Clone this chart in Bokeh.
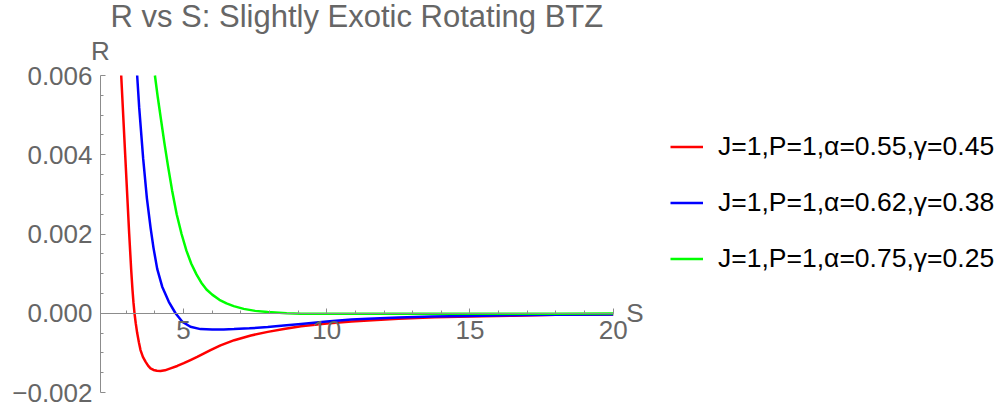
from bokeh.plotting import figure
from bokeh.models import Range1d, FixedTicker, Label, Legend, LegendItem
from bokeh.embed import file_html
from bokeh.resources import INLINE

title_text = "R vs S: Slightly Exotic Rotating BTZ"
x_label = "S"
y_label = "R"
series_labels = ["J=1,P=1,α=0.55,γ=0.45",
                 "J=1,P=1,α=0.62,γ=0.38",
                 "J=1,P=1,α=0.75,γ=0.25"]
series_colors = ["#ff0000", "#0000ff", "#00ff00"]

red_S = [2.823, 2.962, 3.102, 3.172, 3.217, 3.25, 3.287, 3.33, 3.381, 3.44, 3.497, 3.58, 3.671,
         3.76, 3.846, 3.95, 4.07, 4.195, 4.35, 4.544, 4.78, 5.008, 5.24, 5.476, 5.94, 6.29,
         6.77, 7.35, 7.94, 8.5, 9.1, 10.0, 10.86, 11.44, 12.5, 13.77, 15.0, 16.5, 18.0, 20.0]
red_R = [0.006, 0.004, 0.002, 0.00109, 0.00059, 0.00028, 0.0, -0.00025, -0.0005, -0.00073,
         -0.00093, -0.0011, -0.00122, -0.00132, -0.00139, -0.00143, -0.00145, -0.00146,
         -0.00144, -0.00139, -0.00133, -0.00126, -0.00118, -0.0011, -0.00093, -0.00081,
         -0.00068, -0.00056, -0.00047, -0.0004, -0.00033, -0.00026, -0.00021, -0.00018,
         -0.00014, -0.0001, -0.00008, -0.00006, -0.00004, -0.00003]

blue_S = [3.38, 3.45, 3.59, 3.72, 3.85, 3.95, 4.08, 4.254, 4.485, 4.72, 4.95, 5.24, 5.59, 6.0,
          6.4, 6.76, 7.3, 7.94, 8.5, 9.1, 10.0, 10.86, 11.44, 12.5, 13.7, 14.94, 16.5, 18.0,
          20.0]
blue_R = [0.006, 0.0052, 0.0039, 0.0029, 0.00215, 0.00165, 0.00112, 0.00067, 0.00029, 0.0,
          -0.00021, -0.00034, -0.0004, -0.00041, -0.00041, -0.0004, -0.00038, -0.00035,
          -0.00031, -0.00027, -0.00021, -0.00016, -0.00014, -0.00011, -0.00008, -0.00007,
          -0.00005, -0.00004, -0.00003]

green_S = [4.00, 4.10, 4.21, 4.33, 4.46, 4.60, 4.76, 4.93, 5.10, 5.27, 5.45, 5.62, 5.80, 6.0,
           6.25, 6.5, 6.75, 7.1, 7.5, 7.94, 8.6, 9.1, 10.0, 12.0, 14.0, 16.0, 18.0, 20.0]
green_R = [0.006, 0.00545, 0.0049, 0.0043, 0.0037, 0.0031, 0.0025, 0.002, 0.00158, 0.00125,
           0.00098, 0.00077, 0.0006, 0.00047, 0.00034, 0.00025, 0.00018, 0.00011, 0.00006,
           0.00003, 0.0, -0.00001, -0.00001, -0.00001, -0.00001, -0.00001, -0.00001,
           -0.000005]

x_bounds = (2.1, 20.0)
y_bounds = (-0.002, 0.006)
x_major = [5, 10, 15, 20]
x_major_labels = ["5", "10", "15", "20"]
x_minor = [3, 4, 6, 7, 8, 9, 11, 12, 13, 14, 16, 17, 18, 19]
y_major = [-0.002, 0.0, 0.002, 0.004, 0.006]
y_major_labels = ["−0.002", "0.000", "0.002", "0.004", "0.006"]
y_minor = [-0.0015, -0.001, -0.0005, 0.0005, 0.001, 0.0015, 0.0025, 0.003, 0.0035,
           0.0045, 0.005, 0.0055]

FONT = "Liberation Sans"
GRAY = "#666666"
AXIS = "#8c8c8c"

W, H = 1005, 409
# pixel placement of the axes box inside the canvas
AX_L, AX_R, AX_T, AX_B = 100.0, 612.7, 75.0, 392.0
sx = (AX_R - AX_L) / (x_bounds[1] - x_bounds[0])
sy = (AX_B - AX_T) / (y_bounds[1] - y_bounds[0])
x_range = Range1d(x_bounds[0] - AX_L / sx, x_bounds[1] + (W - AX_R) / sx)
y_range = Range1d(y_bounds[0] - (H - AX_B) / sy, y_bounds[1] + AX_T / sy)

p = figure(width=W, height=H, output_backend="svg", toolbar_location=None,
           x_range=x_range, y_range=y_range,
           min_border_left=0, min_border_right=0, min_border_top=0, min_border_bottom=0)
p.title = None
p.grid.visible = False
p.outline_line_color = None

for ax in (p.xaxis[0], p.yaxis[0]):
    ax.axis_line_color = AXIS
    ax.major_tick_line_color = AXIS
    ax.minor_tick_line_color = AXIS
    ax.major_tick_in = 5
    ax.major_tick_out = 0
    ax.minor_tick_in = 3
    ax.minor_tick_out = 0
    ax.major_label_text_font = FONT
    ax.major_label_text_font_size = "26px"
    ax.major_label_text_color = GRAY

p.xaxis[0].fixed_location = 0
p.xaxis[0].bounds = x_bounds
p.xaxis[0].ticker = FixedTicker(ticks=x_major, minor_ticks=x_minor)
p.xaxis[0].major_label_overrides = dict(zip(x_major, x_major_labels))
p.xaxis[0].major_label_standoff = 8
p.yaxis[0].fixed_location = x_bounds[0]
p.yaxis[0].bounds = y_bounds
p.yaxis[0].ticker = FixedTicker(ticks=y_major, minor_ticks=y_minor)
p.yaxis[0].major_label_overrides = dict(zip(y_major, y_major_labels))
p.yaxis[0].major_label_standoff = 8

rends = []
for xs, ys, c in ((red_S, red_R, series_colors[0]),
                  (blue_S, blue_R, series_colors[1]),
                  (green_S, green_R, series_colors[2])):
    rends.append(p.line(xs, ys, line_color=c, line_width=2.5))

p.add_layout(Label(x=(x_bounds[0] + x_bounds[1]) / 2, y=y_bounds[1], text=title_text,
                   text_align="center", text_baseline="alphabetic", y_offset=59,
                   text_font=FONT, text_font_size="31px", text_color=GRAY))
p.add_layout(Label(x=x_bounds[0], y=y_bounds[1], text=y_label, text_align="center",
                   text_baseline="alphabetic", y_offset=25, text_font=FONT,
                   text_font_size="26px", text_color=GRAY))
p.add_layout(Label(x=x_bounds[1], y=0.0, text=x_label, text_align="left", text_baseline="middle",
                   x_offset=13, text_font=FONT, text_font_size="26px", text_color=GRAY))

legend = Legend(items=[LegendItem(label=l, renderers=[r]) for l, r in zip(series_labels, rends)],
                location=(670, 135), border_line_color=None, background_fill_alpha=0,
                label_text_font=FONT, label_text_font_size="26.5px", label_text_color="#000000",
                glyph_width=33, glyph_height=27, label_height=27, label_standoff=15,
                spacing=25, padding=0, margin=0)
p.add_layout(legend)

open("out.html", "w").write(file_html(p, INLINE))
